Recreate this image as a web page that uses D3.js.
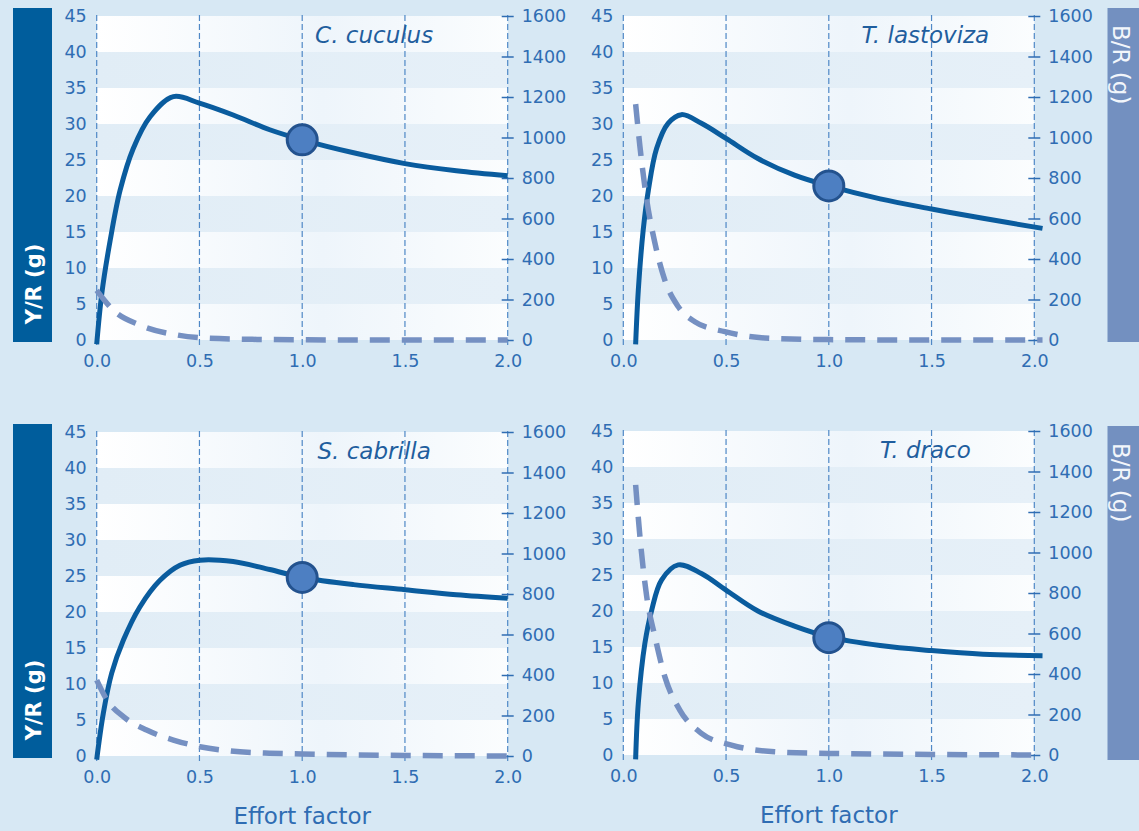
<!DOCTYPE html>
<html lang="en">
  <head>
    <meta charset="utf-8">
    <title>Yield and biomass per recruit</title>
    <style>
      body { margin: 0; background: #d7e8f4; }
      svg { display: block; }
      .tick text { font-family: "DejaVu Sans", sans-serif; font-size: 17.5px; fill: #2f6db3; }
      .title { font-family: "DejaVu Sans", sans-serif; font-style: italic; font-size: 23px; fill: #1f5e9e; }
      .xlabel { font-family: "DejaVu Sans", sans-serif; font-size: 23px; fill: #2f6db3; }
      .grid { stroke: #4f88c6; stroke-width: 1.2px; stroke-dasharray: 6,3; }
    </style>
  </head>
  <body>
    <svg id="chart"></svg>
    <script src="https://cdn.jsdelivr.net/npm/d3@7"></script>
    <script>

      // ---- data ----
      var species = ["C. cuculus", "T. lastoviza", "S. cabrilla", "T. draco"];

      var yprEffort = [
        [0, 0.025, 0.066, 0.114, 0.178, 0.26, 0.373, 0.5, 0.664, 0.842, 1.0, 1.25, 1.5, 1.75, 2.0],
        [0.06, 0.073, 0.097, 0.122, 0.162, 0.218, 0.283, 0.38, 0.5, 0.655, 0.833, 1.0, 1.25, 1.5, 1.75, 2.04],
        [0, 0.032, 0.073, 0.13, 0.21, 0.308, 0.405, 0.502, 0.664, 0.842, 1.0, 1.25, 1.5, 1.75, 2.0],
        [0.06, 0.073, 0.105, 0.138, 0.186, 0.267, 0.38, 0.5, 0.655, 0.833, 1.0, 1.25, 1.5, 1.75, 2.04]
      ];
      var yprValues = [
        [-0.6, 6.5, 13.9, 20.8, 26.6, 31.0, 33.8, 32.9, 31.25, 29.2, 27.8, 26.0, 24.5, 23.5, 22.8],
        [-0.6, 6.9, 15.3, 20.8, 26.6, 30.1, 31.3, 30.1, 28.0, 25.2, 22.9, 21.4, 19.6, 18.2, 16.9, 15.5],
        [-0.5, 5.9, 11.5, 16.1, 20.7, 24.4, 26.5, 27.2, 27.0, 25.9, 24.8, 23.8, 23.1, 22.4, 21.9],
        [-0.6, 7.2, 15.5, 20.1, 24.3, 26.4, 25.2, 22.9, 20.0, 17.9, 16.4, 15.2, 14.5, 14.0, 13.8]
      ];

      var bprEffort = [
        [0, 0.08, 0.21, 0.39, 0.535, 0.78, 1.0, 1.5, 2.0],
        [0.06, 0.081, 0.114, 0.154, 0.202, 0.267, 0.348, 0.494, 0.688, 1.0, 1.5, 2.04],
        [0, 0.05, 0.13, 0.243, 0.373, 0.502, 0.65, 0.84, 1.0, 1.5, 2.0],
        [0.06, 0.081, 0.114, 0.154, 0.202, 0.275, 0.38, 0.526, 0.736, 1.0, 1.5, 2.04]
      ];
      var bprValues = [
        [245, 148, 74, 25, 9, 3, 1, 0, 0],
        [1165, 955, 692, 478, 296, 165, 90, 41, 10, 2, 0, 0],
        [375, 277, 194, 128, 79, 46, 25, 14, 10, 3, 0],
        [1334, 1078, 782, 584, 387, 222, 107, 49, 16, 8, 3, 0]
      ];

      var currentEffort = 1.0;
      var currentYpr = [27.8, 21.4, 24.8, 16.3];

      var yprTicks = [0, 5, 10, 15, 20, 25, 30, 35, 40, 45];
      var bprTicks = [0, 200, 400, 600, 800, 1000, 1200, 1400, 1600];
      var effortTicks = [0, 0.5, 1.0, 1.5, 2.0];

      // ---- layout ----
      var width = 1139, height = 831;
      var plotW = 411, plotH = 324;
      var panelLeft = [96.7, 623.3, 96.7, 623.3];
      var panelZero = [340, 340, 756, 755];

      var svg = d3.select("#chart")
          .attr("width", width)
          .attr("height", height);

      svg.append("rect")
          .attr("width", width)
          .attr("height", height)
          .attr("fill", "#d7e8f4");

      var defs = svg.append("defs");
      var gw = defs.append("linearGradient").attr("id", "stripeWhite");
      gw.append("stop").attr("offset", "0%").attr("stop-color", "#ffffff");
      gw.append("stop").attr("offset", "55%").attr("stop-color", "#eef5fb");
      gw.append("stop").attr("offset", "100%").attr("stop-color", "#fbfdfe");
      var gb = defs.append("linearGradient").attr("id", "stripeBlue");
      gb.append("stop").attr("offset", "0%").attr("stop-color", "#e1edf6");
      gb.append("stop").attr("offset", "100%").attr("stop-color", "#e6f0f8");

      // side bars
      [8, 424].forEach(function(top, r) {
        svg.append("rect")
            .attr("x", 13).attr("y", top)
            .attr("width", 39).attr("height", 334)
            .attr("fill", "#005d9c");
        svg.append("text")
            .attr("transform", "translate(41," + (top + 276) + ") rotate(-90)")
            .attr("text-anchor", "middle")
            .style("font-family", "'DejaVu Sans', sans-serif")
            .style("font-weight", "bold")
            .style("font-size", "21px")
            .attr("fill", "#ffffff")
            .text("Y/R (g)");

        svg.append("rect")
            .attr("x", 1107.5).attr("y", top + (r ? 2 : 0))
            .attr("width", 40).attr("height", 334)
            .attr("fill", "#7390c0");
        svg.append("text")
            .attr("transform", "translate(1113," + (top + (r ? 2 : 0) + 17) + ") rotate(90)")
            .attr("text-anchor", "start")
            .style("font-family", "'DejaVu Sans', sans-serif")
            .style("font-size", "23px")
            .attr("fill", "#f2f6fb")
            .text("B/R (g)");
      });

      species.forEach(function(name, i) {
        var x0 = panelLeft[i], z = panelZero[i];

        var x = d3.scaleLinear().domain([0, 2]).range([x0, x0 + plotW]);
        var yL = d3.scaleLinear().domain([0, 45]).range([z, z - plotH]);
        var yR = d3.scaleLinear().domain([0, 1600]).range([z, z - plotH]);

        var g = svg.append("g");

        // horizontal stripes every 5 units
        g.selectAll("rect.stripe")
            .data(yprTicks.slice(0, -1))
          .enter().append("rect")
            .attr("class", "stripe")
            .attr("x", x(0))
            .attr("width", x(2) - x(0))
            .attr("y", function(d) { return yL(d + 5); })
            .attr("height", function(d) { return yL(d) - yL(d + 5); })
            .attr("fill", function(d, k) { return k % 2 ? "url(#stripeBlue)" : "url(#stripeWhite)"; });

        // vertical dashed grid lines
        g.selectAll("line.grid")
            .data(effortTicks)
          .enter().append("line")
            .attr("class", "grid")
            .attr("x1", function(d) { return x(d); })
            .attr("x2", function(d) { return x(d); })
            .attr("y1", yL(45) - 1)
            .attr("y2", z + 5);

        // left axis
        var left = g.append("g")
            .attr("transform", "translate(" + x(0) + ",0)")
            .call(d3.axisLeft(yL).tickValues(yprTicks).tickSize(0).tickPadding(10));
        left.select(".domain").remove();

        // right axis with ticks across the dashed line
        var right = g.append("g")
            .attr("transform", "translate(" + x(2) + ",0)")
            .call(d3.axisRight(yR).tickValues(bprTicks).tickSize(0).tickPadding(14)
              .tickFormat(d3.format("d")));
        right.select(".domain").remove();
        right.selectAll(".tick line")
            .attr("x1", -6).attr("x2", 6)
            .attr("stroke", "#2f6db3")
            .attr("stroke-width", 1.5);

        // bottom axis
        var bottom = g.append("g")
            .attr("transform", "translate(0," + z + ")")
            .call(d3.axisBottom(x).tickValues(effortTicks).tickSize(0).tickPadding(15)
              .tickFormat(d3.format(".1f")));
        bottom.select(".domain").remove();

        // title
        g.append("text")
            .attr("class", "title")
            .attr("x", x(i % 2 ? 1.47 : 1.35))
            .attr("y", yL(41.3))
            .attr("text-anchor", "middle")
            .text(name);

        if (i >= 2) {
          g.append("text")
              .attr("class", "xlabel")
              .attr("x", x(1.0))
              .attr("y", z + 68)
              .attr("text-anchor", "middle")
              .text("Effort factor");
        }

        // yield per recruit
        var ypr = d3.line()
            .x(function(d) { return x(d[0]); })
            .y(function(d) { return yL(d[1]); })
            .curve(d3.curveCatmullRom.alpha(0.5));
        g.append("path")
            .datum(d3.zip(yprEffort[i], yprValues[i]))
            .attr("d", ypr)
            .attr("fill", "none")
            .attr("stroke", "#0a5c9e")
            .attr("stroke-width", 5);

        // biomass per recruit
        var bpr = d3.line()
            .x(function(d) { return x(d[0]); })
            .y(function(d) { return yR(d[1]); })
            .curve(d3.curveMonotoneX);
        g.append("path")
            .datum(d3.zip(bprEffort[i], bprValues[i]))
            .attr("d", bpr)
            .attr("fill", "none")
            .attr("stroke", "#7590c2")
            .attr("stroke-width", 5.5)
            .attr("stroke-dasharray", "20,12");

        // current effort marker
        g.append("circle")
            .attr("cx", x(currentEffort))
            .attr("cy", yL(currentYpr[i]))
            .attr("r", 15)
            .attr("fill", "#4d7fc2")
            .attr("stroke", "#23528e")
            .attr("stroke-width", 3);
      });

    </script>
  </body>
</html>
